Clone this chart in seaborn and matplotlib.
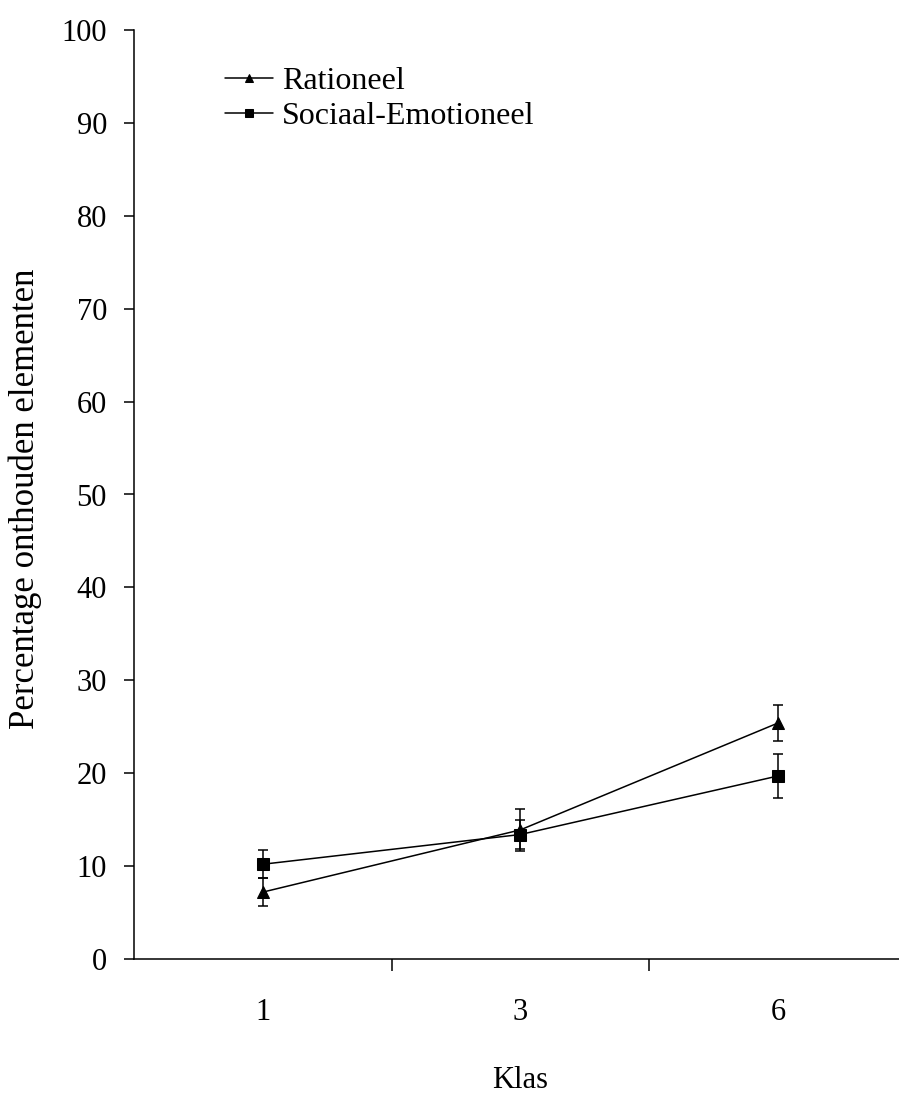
import matplotlib
matplotlib.use("Agg")
import matplotlib.pyplot as plt
import seaborn as sns
import pandas as pd

klas = ["1", "3", "6"]
rationeel = [7.2, 13.9, 25.4]
rationeel_err = [1.5, 2.3, 1.95]
sociaal = [10.2, 13.4, 19.7]
sociaal_err = [1.5, 1.6, 2.4]
yticks = [0, 10, 20, 30, 40, 50, 60, 70, 80, 90, 100]

df = pd.DataFrame({
    "klas": klas * 2,
    "pct": rationeel + sociaal,
    "groep": ["Rationeel"] * 3 + ["Sociaal-Emotioneel"] * 3,
})

sns.set_style("white")
plt.rcParams["font.family"] = ["Liberation Serif", "DejaVu Serif"]
plt.rcParams["text.color"] = "black"

fig = plt.figure(figsize=(8.99, 10.95), dpi=100)
ax = fig.add_axes([134 / 899, 136 / 1095, 765 / 899, 929 / 1095])

sns.lineplot(data=df, x="klas", y="pct", hue="groep", style="groep",
             markers={"Rationeel": "^", "Sociaal-Emotioneel": "s"},
             dashes=False, palette={"Rationeel": "black", "Sociaal-Emotioneel": "black"},
             linewidth=1.1, markersize=8, markeredgecolor="black", ax=ax)

ax.errorbar(klas, rationeel, yerr=rationeel_err, fmt="none", ecolor="black",
            elinewidth=1.1, capsize=3.7, capthick=1.1)
ax.errorbar(klas, sociaal, yerr=sociaal_err, fmt="none", ecolor="black",
            elinewidth=1.1, capsize=3.7, capthick=1.1)

ax.set_ylim(0, 100)
ax.set_xlim(-0.5, 2.47)
ax.set_yticks(yticks)
ax.set_xticks([0.5, 1.5], minor=True)

for s in ["top", "right"]:
    ax.spines[s].set_visible(False)
for s in ["left", "bottom"]:
    ax.spines[s].set_color("black")
    ax.spines[s].set_linewidth(1.1)

ax.tick_params(axis="y", which="major", direction="out", length=7.5, width=1.1,
               pad=12, labelsize=22, colors="black", left=True)
ax.tick_params(axis="x", which="major", length=0, pad=28, labelsize=22, colors="black")
ax.tick_params(axis="x", which="minor", direction="out", length=8.5, width=1.1,
               bottom=True, color="black")

ax.set_ylabel("Percentage onthouden elementen", fontsize=25, color="black")
ax.set_xlabel("Klas", fontsize=22, color="black")
ax.yaxis.set_label_coords(-0.12, 0.495)
ax.xaxis.set_label_coords(0.505, -0.115)

handles, labels = ax.get_legend_handles_labels()
leg = ax.legend(handles, labels, loc="upper left", bbox_to_anchor=(212 / 899, 1 - 54 / 1095),
                bbox_transform=fig.transFigure, frameon=False, fontsize=23,
                handlelength=1.5, handletextpad=0.3, labelspacing=0.18, borderaxespad=0)
for t in leg.get_texts():
    t.set_color("black")
for h in leg.legend_handles:
    h.set_markersize(6)

fig.savefig("out.png", dpi=100, facecolor="white")
